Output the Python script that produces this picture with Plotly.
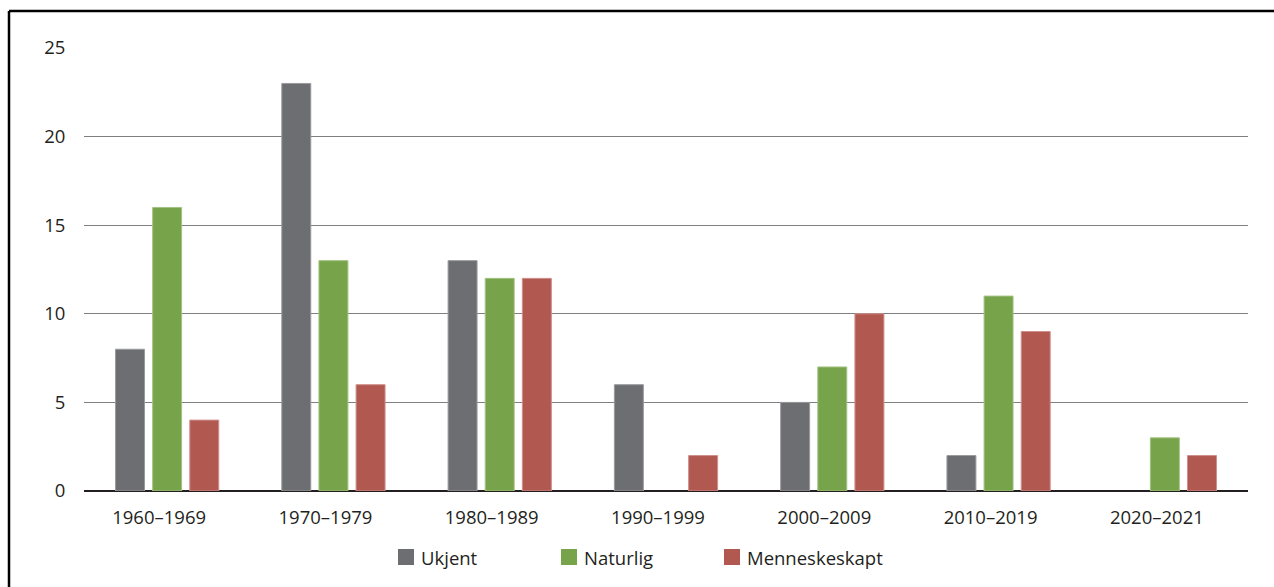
import plotly.graph_objects as go

categories = ["1960–1969", "1970–1979", "1980–1989", "1990–1999", "2000–2009", "2010–2019", "2020–2021"]
ukjent = [8, 23, 13, 6, 5, 2, 0]
naturlig = [16, 13, 12, 0, 7, 11, 3]
menneskeskapt = [4, 6, 12, 2, 10, 9, 2]
y_ticks = [0, 5, 10, 15, 20, 25]
series_names = ["Ukjent", "Naturlig", "Menneskeskapt"]
series_colors = ["#6d6e71", "#77a34b", "#b15851"]
edge_colors = ["#9a9b9d", "#a3c283", "#cf8f8a"]

fig = go.Figure()
for name, vals, col, edge in zip(series_names, [ukjent, naturlig, menneskeskapt], series_colors, edge_colors):
    fig.add_trace(go.Bar(
        x=categories, y=vals, name=name, showlegend=False,
        marker=dict(color=col, line=dict(color=edge, width=[1 if v > 0 else 0 for v in vals])),
    ))

W, H = 1274, 587
L, R, T, B = 84, 26, 48, 96
pw, ph = W - L - R, H - T - B

def px(x):
    return (x - L) / pw

def py(y):
    return (H - B - y) / ph

font = "Open Sans, Noto Sans, sans-serif"
fs = 18.5

# manual legend (layout decoration)
shapes = []
annotations = []
leg_x0 = 398
leg_step = 163
for i, (name, col) in enumerate(zip(series_names, series_colors)):
    x0 = leg_x0 + i * leg_step
    shapes.append(dict(type="rect", xref="paper", yref="paper",
                       x0=px(x0), x1=px(x0 + 16), y0=py(549), y1=py(565),
                       fillcolor=col, line=dict(width=0)))
    annotations.append(dict(xref="paper", yref="paper", x=px(x0 + 21), y=py(557),
                            xanchor="left", yanchor="middle", text=name, showarrow=False,
                            font=dict(family=font, size=fs, color="#231f20")))

# frame lines
shapes += [
    dict(type="line", xref="paper", yref="paper",
         x0=px(9), x1=px(9), y0=py(11), y1=py(600),
         line=dict(color="black", width=2.5), layer="above"),
    dict(type="line", xref="paper", yref="paper",
         x0=px(9), x1=px(1290), y0=py(11), y1=py(11),
         line=dict(color="black", width=2.5), layer="above"),
]

fig.update_layout(
    width=W, height=H,
    margin=dict(l=L, r=R, t=T, b=B, autoexpand=False),
    paper_bgcolor="white", plot_bgcolor="white",
    barmode="group", bargap=0.33, bargroupgap=0.22,
    font=dict(family=font, size=fs, color="#231f20"),
    showlegend=False,
    xaxis=dict(
        showgrid=False, showline=False, ticks="outside", ticklen=10,
        tickcolor="rgba(0,0,0,0)", tickfont=dict(size=fs),
        ticklabelshift=-8, fixedrange=True,
    ),
    yaxis=dict(
        range=[0, 25], tickvals=y_ticks, showgrid=True,
        gridcolor="#7f7f7f", gridwidth=1.2,
        zeroline=True, zerolinecolor="#231f20", zerolinewidth=1.5,
        showline=False, ticks="outside", ticklen=14, tickcolor="rgba(0,0,0,0)",
        tickfont=dict(size=fs),
    ),
    shapes=shapes,
    annotations=annotations,
)

fig.write_html("out.html")
